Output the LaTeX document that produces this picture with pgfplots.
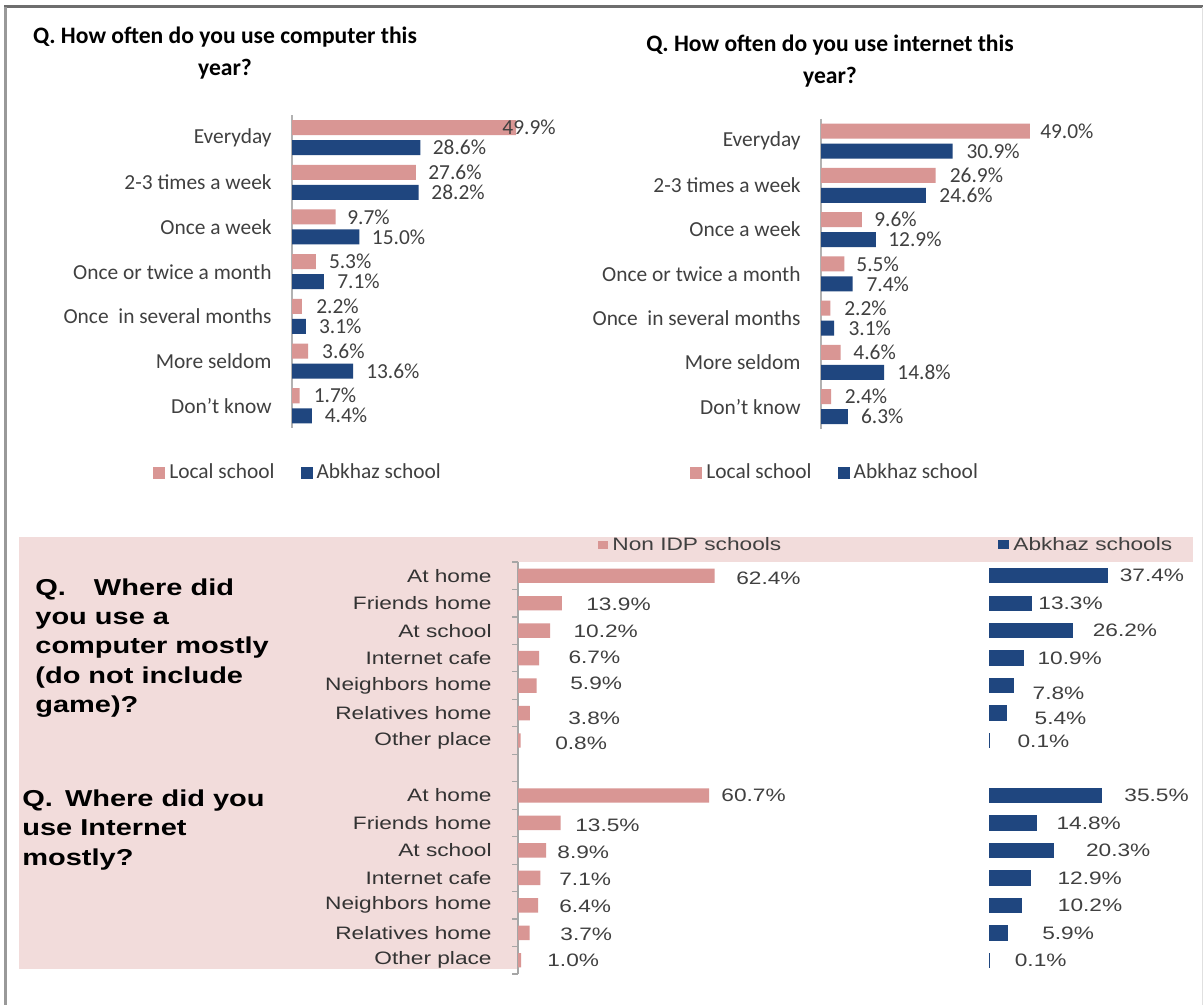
\documentclass[border=0pt]{standalone}
\usepackage{pgfplots}
\pgfplotsset{compat=1.18}
\usepackage{pgfplotstable}
\usepackage{fontspec}
\setmainfont{Carlito}
\newfontfamily\arialw[FakeStretch=1.26]{Liberation Sans}

\definecolor{barpink}{HTML}{D99694}
\definecolor{barnavy}{HTML}{1F467F}
\definecolor{panel}{HTML}{F2DCDB}
\definecolor{txt}{HTML}{404040}

% how often: value and label shift (pt) per series
\pgfplotstableread{
y local dxl abkhaz dxa
0 49.9 -7.0 28.6 6.0
1 27.6 6.0 28.2 6.2
2 9.7 5.7 15.0 6.1
3 5.3 6.4 7.1 6.5
4 2.2 7.0 3.1 6.4
5 3.6 6.8 13.6 6.4
6 1.7 6.9 4.4 6.3
}\cmpfreq

\pgfplotstableread{
y local dxl abkhaz dxa
0 49.0 5.0 30.9 6.7
1 26.9 6.9 24.6 6.6
2 9.6 6.0 12.9 6.0
3 5.5 5.8 7.4 6.8
4 2.2 6.8 3.1 7.0
5 4.6 6.2 14.8 6.5
6 2.4 6.6 6.3 6.4
}\netfreq

% where: rows 0-6 computer, 8-14 internet
\pgfplotstableread{
y val dx dy
0 62.4 10.7 1.5
1 13.9 12.1 0.5
2 10.2 11.5 0.5
3 6.7 14.5 -0.5
4 5.9 16.7 -1.0
5 3.8 19.0 2.5
6 0.8 17.2 1.2
8 60.7 5.9 0
9 13.5 7.2 1.0
10 8.9 5.5 0.7
11 7.1 9.3 0.5
12 6.4 10.4 0.7
13 3.7 15.2 0.5
14 1.0 12.9 0
}\wherenon

\pgfplotstableread{
y val dx dy
0 37.4 5.7 0
1 13.3 3.3 0
2 26.2 10.0 0
3 10.9 6.7 0
4 7.8 9.2 3.7
5 5.4 14.0 2.5
6 0.1 13.9 0.3
8 35.5 11.0 0
9 14.8 10.0 0
10 20.3 16.0 0
11 12.9 13.5 0
12 10.2 18.0 0
13 5.9 17.0 0
14 0.1 12.5 0
}\whereabk

\tikzset{
  calfont/.style={font=\fontsize{10.7}{12}\selectfont},
  arfont/.style={font=\arialw\fontsize{9}{10}\selectfont},
}

\pgfplotsset{
  freqaxis/.style={
    scale only axis, width=130pt, clip=false,
    xmin=0, ymin=-0.5, ymax=6.5, y dir=reverse,
    axis x line=none, axis y line*=left,
    y axis line style={draw=black!30, line width=0.9pt},
    ytick={0,...,6},
    yticklabels={Everyday,2-3 times a week,Once a week,Once or twice a month,Once\ \ in several months,More seldom,Don’t know},
    major tick length=0pt,
    yticklabel style={calfont, text=txt, inner sep=0pt, xshift=-10pt},
    /pgf/number format/assume math mode=true,
    legend columns=2,
    legend style={draw=none, fill=none, anchor=west, calfont, text=txt, inner sep=0pt,
      /tikz/every even column/.append style={column sep=11pt}},
    legend image code/.code={\fill[##1] (0pt,-3.2pt) rectangle (6pt,3.2pt);},
  },
  pctlabels/.style={
    point meta=x,
    nodes near coords={\pgfmathprintnumber[fixed,fixed zerofill,precision=1]{\pgfplotspointmeta}\%},
    nodes near coords align=horizontal,
  },
  freqbar/.style n args={3}{
    xbar, bar width=7.5pt, bar shift=#2, fill=#1, draw=none, pctlabels,
    visualization depends on={\thisrow{#3}\as\dx},
    every node near coord/.append style={anchor=west, inner sep=0pt, xshift=\dx pt, yshift=#2,
      calfont, text=txt},
  },
  whereaxis/.style={
    scale only axis, height=206pt, clip=false,
    xmin=0, ymin=-0.5, ymax=14.5, y dir=reverse,
    /pgf/number format/assume math mode=true,
    legend style={draw=none, fill=none, anchor=west, inner sep=0pt, arfont, text=txt},
    legend image code/.code={\fill[##1] (0pt,-2pt) rectangle (5pt,2pt);},
  },
  wherebar/.style={
    xbar, bar width=7.2pt, bar shift=0pt, fill=#1, pctlabels,
    visualization depends on={\thisrow{dx}\as\dx},
    visualization depends on={\thisrow{dy}\as\dy},
    every node near coord/.append style={anchor=west, inner sep=0pt, xshift=\dx pt, yshift=-\dy pt,
      arfont, text=txt},
  },
}

\begin{document}
\begin{tikzpicture}
\path[use as bounding box, fill=white] (0pt,0pt) rectangle (601.5pt,-502.5pt);
% frame
\draw[line width=1.5pt, color=black!57] (2pt,-3.5pt) -- (601.5pt,-3.5pt);
\draw[line width=1.5pt, color=black!40] (2.5pt,-3.5pt) -- (2.5pt,-502.5pt);
\draw[line width=0.5pt, color=black!12] (601pt,-3.5pt) -- (601pt,-502.5pt);
% shaded panel
\fill[panel] (9.5pt,-268.5pt) rectangle (596.5pt,-281pt);
\fill[panel] (9.5pt,-281pt) rectangle (259pt,-484.5pt);

% titles
\node[font=\bfseries\fontsize{11.8}{16}\selectfont, align=center] at (112.5pt,-26.5pt)
  {Q. How often do you use computer this\\year?};
\node[font=\bfseries\fontsize{11.8}{16}\selectfont, align=center] at (415pt,-30.5pt)
  {Q. How often do you use internet this\\year?};

\begin{scope}[every node/.style={anchor=base west, inner sep=0pt, font=\arialw\bfseries\fontsize{11.5}{14}\selectfont}]
\node at (17.5pt,-297.5pt) {Q.\hspace{14pt}Where did};
\node at (17.5pt,-312.2pt) {you use a};
\node at (17.5pt,-326.8pt) {computer mostly};
\node at (17.5pt,-341.5pt) {(do not include};
\node at (17.5pt,-356.1pt) {game)?};
\node at (11pt,-403pt) {Q.\hspace{6pt}Where did you};
\node at (11pt,-417.8pt) {use Internet};
\node at (11pt,-432.5pt) {mostly?};
\end{scope}

% computer frequency
\begin{axis}[freqaxis, at={(146pt,-57.6pt)}, anchor=north west,
  height=156.45pt, xmax=57.9,
  legend style={at={(-0.535,-0.1437)}}]
\addplot[freqbar={barpink}{5pt}{dxl}] table[x=local,y=y]{\cmpfreq};
\addplot[freqbar={barnavy}{-5pt}{dxa}] table[x=abkhaz,y=y]{\cmpfreq};
\legend{Local school,Abkhaz school}
\end{axis}

% internet frequency
\begin{axis}[freqaxis, at={(410.5pt,-59.45pt)}, anchor=north west,
  height=154.9pt, xmax=61.0,
  legend style={at={(-0.504,-0.143)}}]
\addplot[freqbar={barpink}{5pt}{dxl}] table[x=local,y=y]{\netfreq};
\addplot[freqbar={barnavy}{-5pt}{dxa}] table[x=abkhaz,y=y]{\netfreq};
\legend{Local school,Abkhaz school}
\end{axis}

% where: non IDP schools
\begin{axis}[whereaxis, at={(259pt,-281pt)}, anchor=north west,
  width=200pt, xmax=127,
  axis x line=none, axis y line*=left,
  y axis line style={draw=black!35, line width=0.8pt},
  ytick={0,...,6,8,9,...,14},
  yticklabels={At home,Friends home,At school,Internet cafe,Neighbors home,Relatives home,Other place,
    At home,Friends home,At school,Internet cafe,Neighbors home,Relatives home,Other place},
  minor ytick={-0.5,0.5,...,14.5},
  major tick length=0pt, minor tick length=3pt, tick align=outside,
  minor tick style={draw=black!35, line width=0.6pt},
  yticklabel style={arfont, text=black!80, inner sep=0pt, xshift=-13pt},
  legend style={at={(0.2,1.0413)}}]
\addplot[wherebar=barpink, draw=none] table[x=val,y=y]{\wherenon};
\legend{Non IDP schools}
\end{axis}

% where: Abkhaz schools
\begin{axis}[whereaxis, at={(494.5pt,-281pt)}, anchor=north west,
  width=100pt, xmax=62.9, hide axis,
  legend style={at={(0.045,1.0413)}}]
\addplot[wherebar=barnavy, draw=barnavy, line width=0.5pt] table[x=val,y=y]{\whereabk};
\legend{Abkhaz schools}
\end{axis}
\end{tikzpicture}
\end{document}
